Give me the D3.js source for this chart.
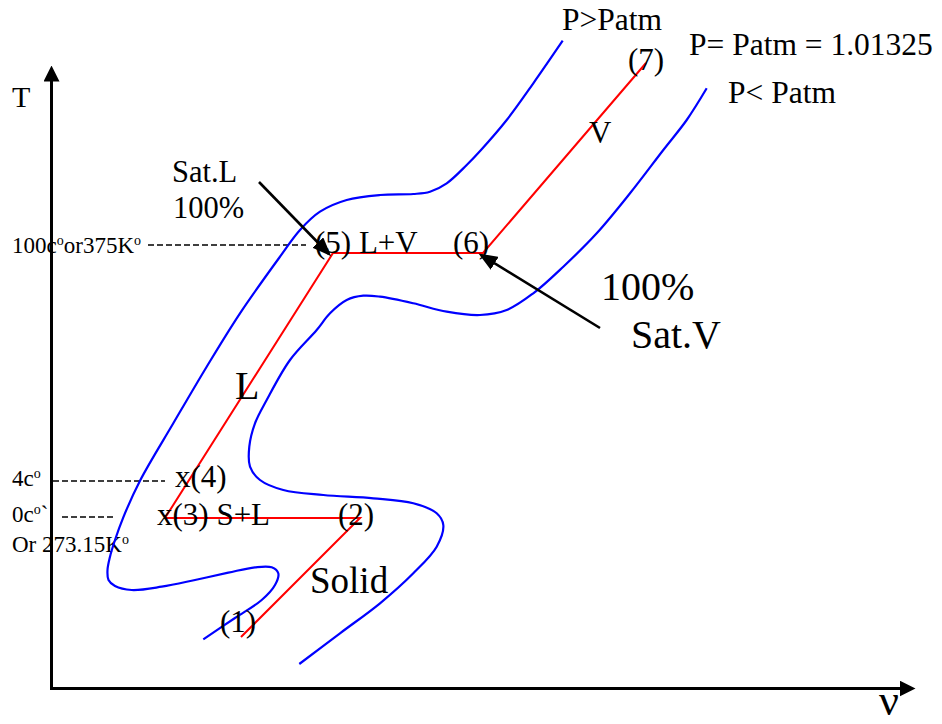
<!DOCTYPE html>
<html><head><meta charset="utf-8">
<script src="https://cdn.jsdelivr.net/npm/d3@7"></script>
<style>html,body{margin:0;padding:0;background:#fff;} svg{display:block;}</style>
</head><body>
<svg id="c" width="942" height="724"></svg>
<script>
// ---- data (arbitrary units: v = specific volume, T = temperature) ----
// red process line at P = Patm: states (1) (2) (3) (5) (6) (7)
const processV = [19.0, 30.9, 11.4, 28.2, 43.2, 59.5];
const processT = [5.1, 17.0, 17.0, 43.5, 43.5, 62.5];

// isobar P > Patm (upper-left blue curve)
const isobarAboveV = [15.23,18.4,21.07,22.4,22.73,22.07,20.4,17.73,14.4,11.07,8.07,6.4,5.75,5.65,5.9,6.4,7.23,8.9,12.23,15.57,18.9,22.9,24.9,26.9,29.57,32.9,36.23,37.9,39.57,41.57,43.0,45.57,48.23,51.17];
const isobarAboveT = [4.87,7.0,8.8,10.3,11.47,12.07,12.07,11.53,10.8,10.13,9.8,10.2,10.8,11.8,13.13,14.8,17.07,20.73,26.47,32.13,37.47,43.13,45.8,47.63,48.8,49.3,49.4,49.63,50.47,52.3,53.8,56.8,60.47,64.73];

// isobar P < Patm (lower-right blue curve)
const isobarBelowV = [24.83,28.9,32.9,36.23,38.57,39.23,38.57,36.23,32.23,27.23,23.23,20.9,19.9,19.83,20.4,21.57,23.9,26.57,27.9,29.57,31.23,32.9,36.23,39.57,42.9,45.57,48.23,51.23,54.57,57.9,61.23,63.57,65.57];
const isobarBelowT = [2.4,5.47,8.47,11.47,14.13,16.3,17.47,18.47,18.97,19.3,19.8,20.8,22.13,24.13,26.47,28.8,32.8,35.8,37.47,38.8,39.23,39.13,38.47,37.63,37.3,37.8,39.47,42.13,45.47,49.47,53.8,56.8,59.97];

// reference temperature levels (dashed guides) and their labels
const guideT  = [44.3, 20.7, 17.1];
const guideV0 = [9.7, 0.2, 1.1];
const guideV1 = [25.5, 11.4, 6.4];
const tickLabelParts = [["100c","o","or375K","o"], ["4c","o"], ["0c","o","`"], ["Or 273.15K","o"]];
const tickLabelT = [43.5, 20.2, 16.6, 13.6];

// annotation arrows: Sat.L 100% and 100% Sat.V
const arrowTailV = [20.8, 54.9], arrowTailT = [50.6, 36.0];
const arrowTipV  = [27.8, 43.0], arrowTipT  = [43.4, 43.3];

// text annotations
const noteText = ["Sat.L","100%","(5) L+V","(6)","(7)","V","x(4)","x(3) S+L","(2)","(1)","L","Solid","100%","Sat.V","P>Patm","P= Patm = 1.01325","P< Patm"];
const noteRole = ["note","note","state","state","state","state","state","state","state","state","region","solid","region","region","press","press","press"];
const noteV = [12.1,12.2,26.4,40.2,57.7,53.8,12.4,10.6,28.7,16.9,18.4,25.9,55.0,58.0,51.1,63.8,67.7];
const noteT = [50.6,47.0,43.5,43.5,61.8,54.5,20.1,16.3,16.3,5.6,28.9,9.5,38.8,34.0,65.8,63.3,58.5];

// ---- drawing ----
const FONT = "'Liberation Serif','Times New Roman',serif";
const roleSize = {note:30.5, state:31, region:40, solid:37, press:31.5};
const svg = d3.select("#c");
const x = d3.scaleLinear().domain([0, 86.4]).range([51, 915]);
const y = d3.scaleLinear().domain([0, 62.3]).range([688, 65]);

const defs = svg.append("defs");
defs.append("marker").attr("id","axisHead").attr("markerUnits","userSpaceOnUse")
  .attr("viewBox","0 0 16 16").attr("markerWidth",16).attr("markerHeight",16)
  .attr("refX",11).attr("refY",8).attr("orient","auto")
  .append("path").attr("d","M0,0L16,8L0,16Z").attr("fill","#000");
defs.append("marker").attr("id","noteHead").attr("markerUnits","userSpaceOnUse")
  .attr("viewBox","0 0 19 15").attr("markerWidth",19).attr("markerHeight",15)
  .attr("refX",16).attr("refY",7.5).attr("orient","auto")
  .append("path").attr("d","M0,0L19,7.5L0,15Z").attr("fill","#000");

// axes (no ticks; arrowheads at the ends)
const xAxisScale = x.copy().range([51, 910]);
const yAxisScale = y.copy().range([688, 70]);
const gx = svg.append("g").attr("transform",`translate(0,${y(0)})`)
  .call(d3.axisBottom(xAxisScale).tickValues([]).tickSizeOuter(0));
const gy = svg.append("g").attr("transform",`translate(${x(0)},0)`)
  .call(d3.axisLeft(yAxisScale).tickValues([]).tickSizeOuter(0));
[gx, gy].forEach(g => g.select(".domain").attr("stroke","#000").attr("stroke-width",3)
  .attr("stroke-linecap","square").attr("marker-end","url(#axisHead)"));

// axis titles
svg.append("text").attr("x", x(-3.9)).attr("y", y(58.1)).attr("font-family",FONT)
  .attr("font-size",30).text("T");
svg.append("text").attr("x", x(82.8)).attr("y", y(-2.7)).attr("font-family",FONT)
  .attr("font-size",44).text("ν");

// dashed guides
svg.append("g").selectAll("line").data(guideT).join("line")
  .attr("x1",(d,i)=>x(guideV0[i])).attr("x2",(d,i)=>x(guideV1[i]))
  .attr("y1",d=>y(d)).attr("y2",d=>y(d))
  .attr("stroke","#000").attr("stroke-width",1.6).attr("stroke-dasharray","6,3");

// tick labels with superscript degree marks
tickLabelParts.forEach((parts,i) => {
  const t = svg.append("text").attr("x", x(-3.9)).attr("y", y(tickLabelT[i]))
    .attr("font-family",FONT).attr("font-size",23);
  let up = false;
  parts.forEach((p,j) => {
    const sup = j % 2 === 1;
    const ts = t.append("tspan").text(p);
    if (sup) { ts.attr("font-size",14).attr("dy",-8); up = true; }
    else if (up) { ts.attr("dy",8); up = false; }
  });
});

// isobars
const line = d3.line().x(d=>x(d[0])).y(d=>y(d[1])).curve(d3.curveCatmullRom.alpha(0.5));
[[isobarAboveV,isobarAboveT],[isobarBelowV,isobarBelowT]].forEach(([vs,ts]) => {
  svg.append("path").attr("d", line(vs.map((v,i)=>[v,ts[i]])))
    .attr("fill","none").attr("stroke","#0000ff").attr("stroke-width",2.2);
});

// process line
svg.append("path").attr("d", d3.line().x(d=>x(d[0])).y(d=>y(d[1]))(processV.map((v,i)=>[v,processT[i]])))
  .attr("fill","none").attr("stroke","#ff0000").attr("stroke-width",2).attr("stroke-linejoin","miter");

// annotation texts
svg.append("g").selectAll("text").data(noteText).join("text")
  .attr("x",(d,i)=>x(noteV[i])).attr("y",(d,i)=>y(noteT[i]))
  .attr("font-family",FONT).attr("font-size",(d,i)=>roleSize[noteRole[i]])
  .attr("fill","#000").text(d=>d);

// annotation arrows
svg.append("g").selectAll("line").data(arrowTailV).join("line")
  .attr("x1",(d,i)=>x(arrowTailV[i])).attr("y1",(d,i)=>y(arrowTailT[i]))
  .attr("x2",(d,i)=>x(arrowTipV[i])).attr("y2",(d,i)=>y(arrowTipT[i]))
  .attr("stroke","#000").attr("stroke-width",2.6).attr("marker-end","url(#noteHead)");
</script>
</body></html>
